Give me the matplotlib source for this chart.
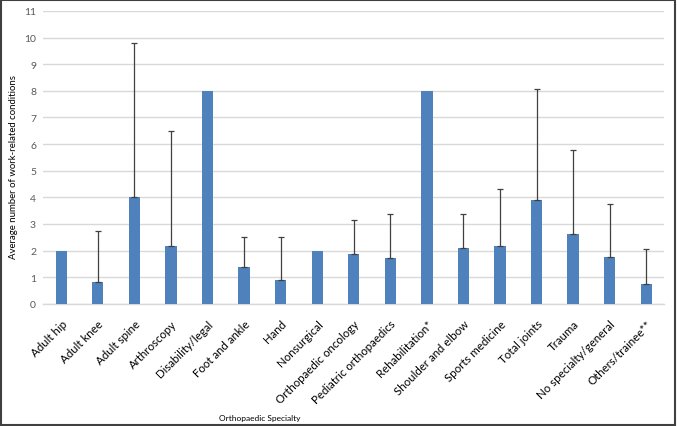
import matplotlib
matplotlib.use("Agg")
import matplotlib.pyplot as plt
from matplotlib.patches import Rectangle

categories = ["Adult hip", "Adult knee", "Adult spine", "Arthroscopy", "Disability/legal",
              "Foot and ankle", "Hand", "Nonsurgical", "Orthopaedic oncology",
              "Pediatric orthopaedics", "Rehabilitation*", "Shoulder and elbow",
              "Sports medicine", "Total joints", "Trauma", "No specialty/general",
              "Others/trainee**"]
means = [2.0, 0.84, 4.0, 2.18, 8.0, 1.37, 0.9, 2.0, 1.87, 1.72, 8.0, 2.09, 2.18, 3.91, 2.64, 1.75, 0.74]
err_top = [None, 2.73, 9.8, 6.48, None, 2.5, 2.53, None, 3.16, 3.37, None, 3.38, 4.32, 8.07, 5.79, 3.76, 2.07]
yticks = list(range(0, 12))

plt.rcParams['font.family'] = ['Lato', 'DejaVu Sans']

fig = plt.figure(figsize=(6.77, 4.27), dpi=100)
ax = fig.add_axes([0.0635, 0.286, 0.918, 0.686])

x = list(range(len(categories)))
ax.bar(x, means, width=0.31, color='#4F81BD', zorder=3)
ex = [xi for xi, e in zip(x, err_top) if e is not None]
em = [m for m, e in zip(means, err_top) if e is not None]
eu = [e - m for m, e in zip(means, err_top) if e is not None]
ax.errorbar(ex, em, yerr=[[0] * len(ex), eu], fmt='none', ecolor='#404040',
            elinewidth=0.9, capsize=2.5, capthick=0.9, zorder=4)

ax.set_xlim(-0.5, len(categories) - 0.5)
ax.set_ylim(0, 11)
ax.set_yticks(yticks)
ax.set_yticklabels([str(t) for t in yticks], fontsize=7.5, color='#595959')
ax.set_xticks(x)
ax.set_xticklabels(categories, rotation=45, ha='right', rotation_mode='anchor',
                   fontsize=8.3, color='#000000')
ax.tick_params(axis='both', length=0)
ax.tick_params(axis='y', pad=5)
ax.tick_params(axis='x', pad=10)
ax.grid(axis='y', color='#D9D9D9', linewidth=1, zorder=0)
for s in ['top', 'right', 'left']:
    ax.spines[s].set_visible(False)
ax.spines['bottom'].set_color('#D9D9D9')
ax.spines['bottom'].set_linewidth(1)
ax.set_ylabel("Average number of work-related conditions", fontsize=6.9, color='#000000')
ax.yaxis.set_label_coords(-0.040, 0.47)
fig.text(0.383, 0.012, "Orthopaedic Specialty", fontsize=6, ha='center', va='bottom')

fig.patches.append(Rectangle((0.002, 0.003), 0.995, 0.994, transform=fig.transFigure,
                             fill=False, edgecolor='#404040', linewidth=1.5))

fig.savefig("out.png", dpi=100)
